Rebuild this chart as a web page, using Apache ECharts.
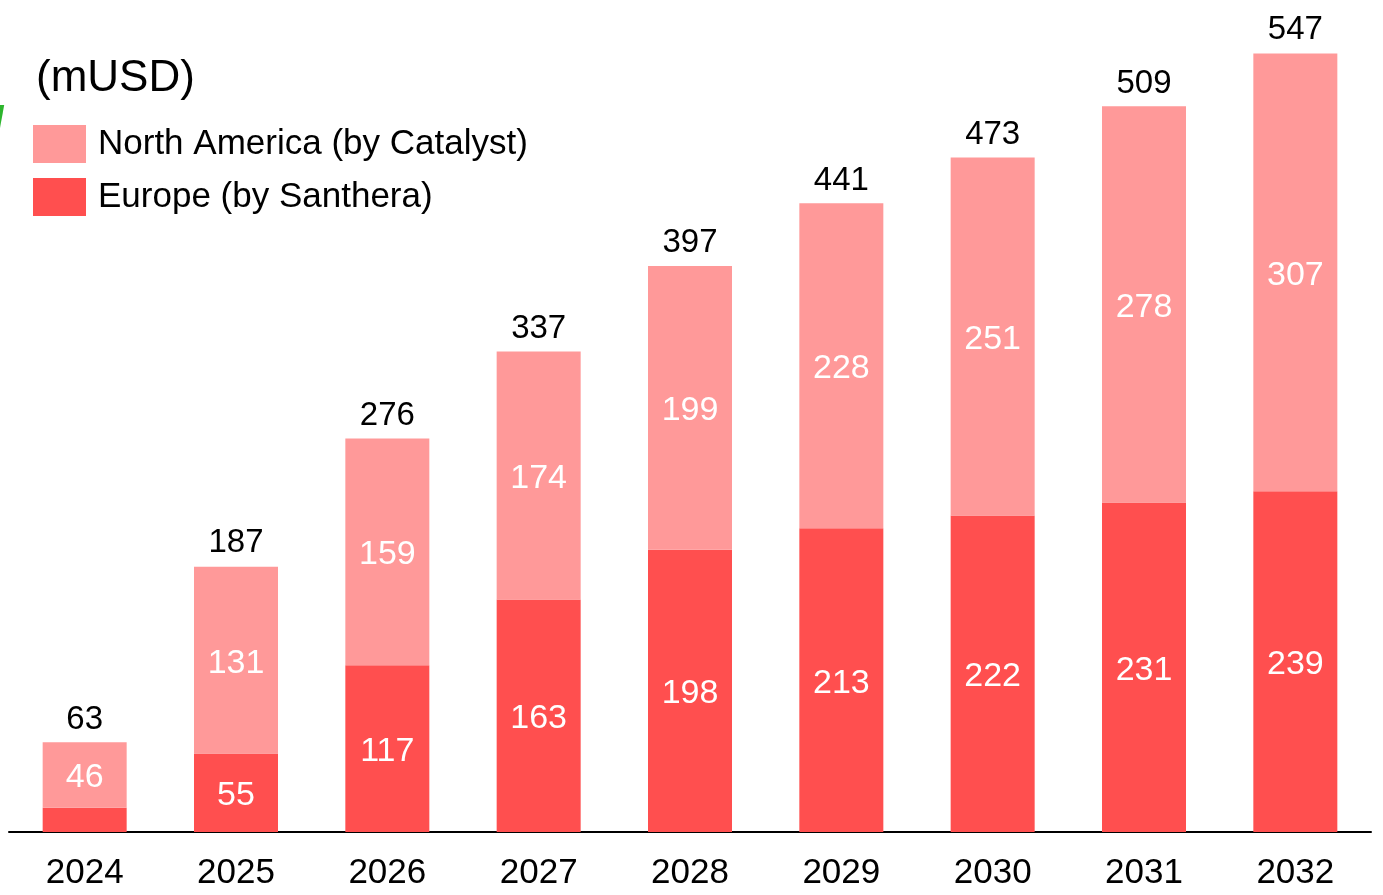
<!DOCTYPE html>
<html>
<head>
<meta charset="utf-8">
<script src="https://cdn.jsdelivr.net/npm/echarts@6/dist/echarts.min.js"></script>
<style>
  html, body { margin: 0; padding: 0; background: #fff; }
  #bar-chart { width: 1383px; height: 895px; }
</style>
</head>
<body>
<div id="bar-chart"></div>
<script>
const years = ['2024', '2025', '2026', '2027', '2028', '2029', '2030', '2031', '2032'];
const europe = [17, 55, 117, 163, 198, 213, 222, 231, 239];
const northAmerica = [46, 131, 159, 174, 199, 228, 251, 278, 307];
const totals = [63, 187, 276, 337, 397, 441, 473, 509, 547];

const fontFamily = 'Liberation Sans, Arial, sans-serif';

const barChartFn = () => {
    let barChart = echarts.init(document.getElementById('bar-chart'));
    const barChartData = {
        animation: false,
        textStyle: { fontFamily: fontFamily },
        grid: {
            left: 9,
            right: 12,
            top: 52,
            bottom: 63
        },
        legend: {
            data: ['North America (by Catalyst)', 'Europe (by Santhera)'],
            orient: 'vertical',
            left: 33,
            top: 125,
            padding: 0,
            itemWidth: 53,
            itemHeight: 38,
            itemGap: 15,
            icon: 'rect',
            textStyle: {
                fontSize: 35,
                color: '#000',
                padding: [0, 0, 0, 7]
            }
        },
        graphic: [
            {
                type: 'text',
                left: 36,
                top: 57,
                style: { text: '(mUSD)', fontSize: 44, fill: '#000', fontFamily: fontFamily }
            },
            {
                type: 'text',
                left: -6,
                top: 104,
                style: { text: '/', fontSize: 38, fontWeight: 'bold', fill: '#2db52d', fontFamily: fontFamily }
            }
        ],
        xAxis: {
            type: 'category',
            data: years,
            axisTick: { show: false },
            axisLine: { lineStyle: { color: '#000', width: 2 } },
            axisLabel: {
                color: '#000',
                fontSize: 35,
                margin: 24
            }
        },
        yAxis: {
            type: 'value',
            min: 0,
            max: 547,
            show: false,
            splitLine: { show: false }
        },
        series: [
            {
                name: 'Europe (by Santhera)',
                type: 'bar',
                stack: 'total',
                barWidth: 84,
                color: '#ff4f4f',
                data: europe,
                label: {
                    show: true,
                    position: 'inside',
                    offset: [0, 3],
                    color: '#fff',
                    fontSize: 34,
                    formatter: p => (p.dataIndex === 0 ? '' : p.value)
                }
            },
            {
                name: 'North America (by Catalyst)',
                type: 'bar',
                stack: 'total',
                barWidth: 84,
                color: '#ff9999',
                data: northAmerica,
                label: {
                    show: true,
                    position: 'inside',
                    offset: [0, 3],
                    color: '#fff',
                    fontSize: 34
                }
            },
            {
                // 透明的总计柱，只用来放顶部标签
                name: 'Total',
                type: 'bar',
                barWidth: 84,
                barGap: '-100%',
                z: 1,
                silent: true,
                itemStyle: { color: 'rgba(0,0,0,0)' },
                data: totals,
                label: {
                    show: true,
                    position: 'top',
                    distance: 6,
                    color: '#000',
                    fontSize: 33
                }
            }
        ]
    };
    barChart.setOption(barChartData);
    return barChart;
};

barChartFn();
</script>
</body>
</html>
